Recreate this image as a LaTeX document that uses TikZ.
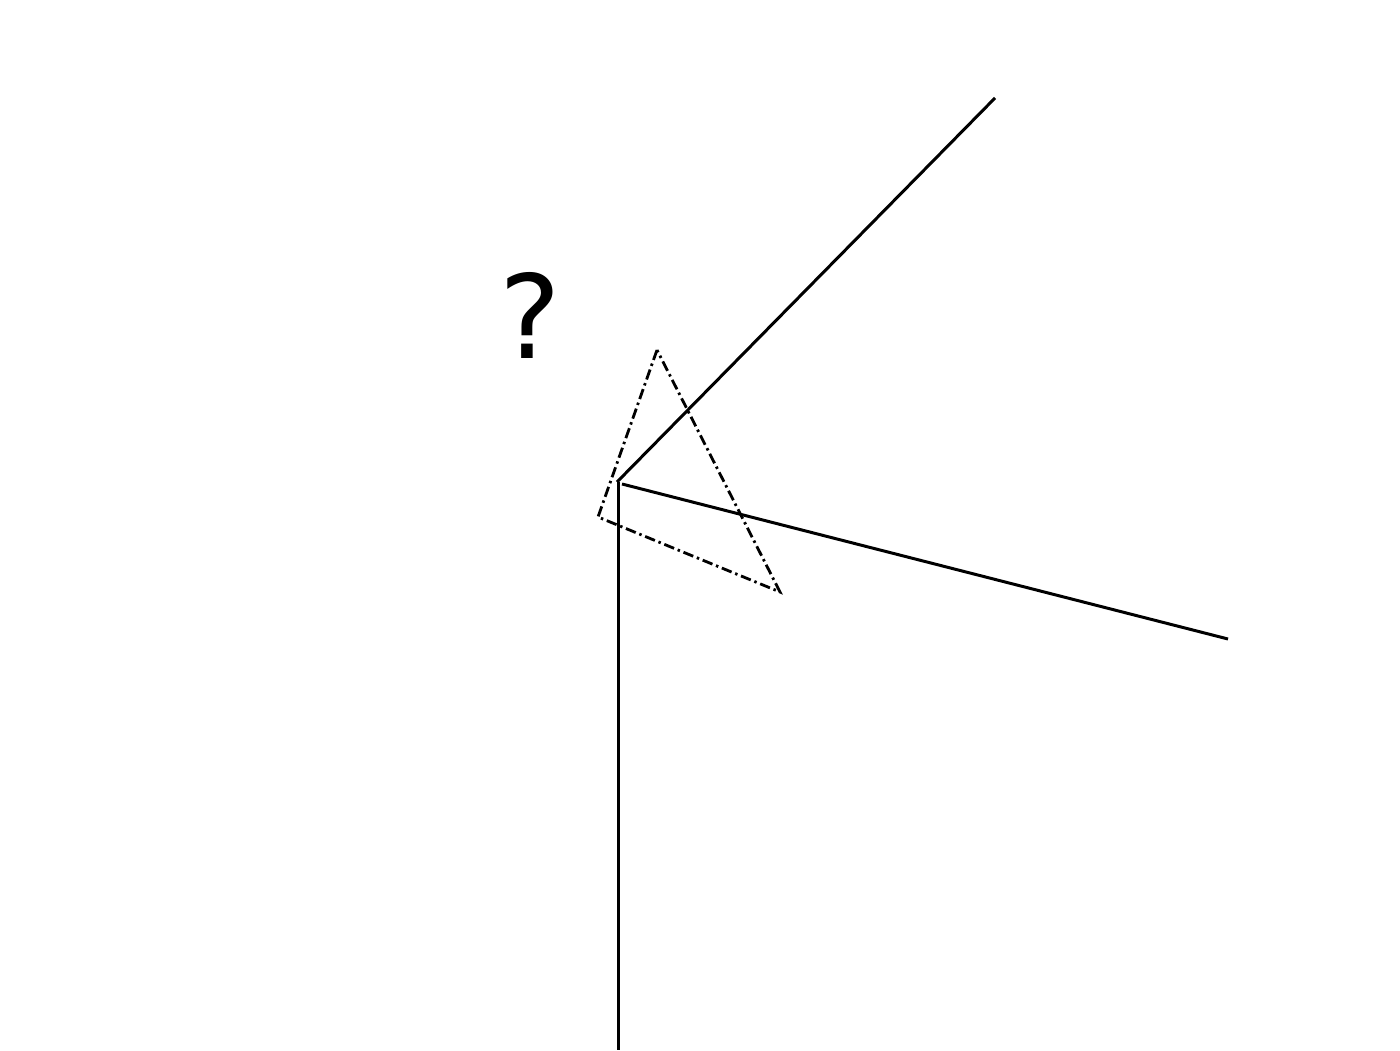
\documentclass[tikz,border=0pt]{standalone}
\usepackage{fontspec}
\setmainfont{DejaVu Sans}
\usepackage{tikz}
\usetikzlibrary{calc}

\tikzset{
    ray/.style={line width=0.85pt},
    tri/.style={line width=0.8pt, dash pattern=on 3pt off 1.1pt on 0.7pt off 1.1pt}
}

\begin{document}
\begin{tikzpicture}[font=\fontsize{33}{40}\selectfont]
    \useasboundingbox (0,0) rectangle (14,10.5);
    % rays from the corner
    \coordinate (o) at (6.17,5.68);
    \coordinate (up) at (9.95,9.52);
    \coordinate (right) at (12.28,4.11);
    \coordinate (down) at (6.18,0);
    \draw[ray] (o) -- (up);
    \draw[ray] (6.22,5.66) -- (right);
    \draw[ray] (6.18,5.68) -- (down);
    % dash-dot triangle
    \coordinate (t1) at (6.57,7.00);
    \coordinate (t2) at (5.98,5.33);
    \coordinate (t3) at (7.80,4.58);
    \draw[tri] (t1) -- (t2) -- (t3) -- cycle;
    \node (q) at (5.30,7.35) {?};
\end{tikzpicture}
\end{document}
